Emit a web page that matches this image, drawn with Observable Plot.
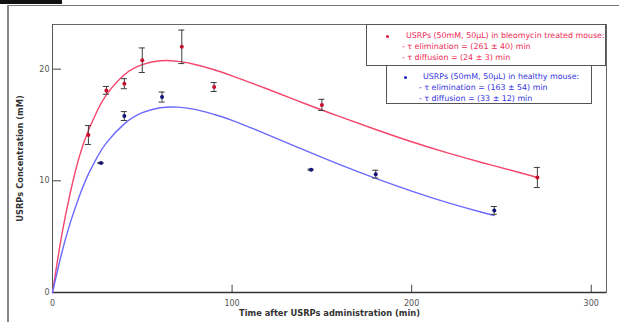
<!DOCTYPE html>
<html>
<head>
<meta charset="utf-8">
<script src="https://cdn.jsdelivr.net/npm/d3@7"></script>
<script src="https://cdn.jsdelivr.net/npm/@observablehq/plot@0.6"></script>
<style>
  html, body { margin: 0; padding: 0; background: #fff; }
  #wrap { position: relative; width: 619px; height: 322px; overflow: hidden; font-family: "DejaVu Sans", Verdana, sans-serif; }
  #wrap svg { position: absolute; left: 0; top: 0; }
  .deco { position: absolute; }
  .leg { position: absolute; background: #fff; border: 1px solid #555; box-sizing: border-box; }
  .leg div { position: absolute; white-space: nowrap; font-size: 7.9px; line-height: 1; }
  .bul { position: absolute; width: 3px; height: 3px; border-radius: 50%; }
</style>
</head>
<body>
<div id="wrap"></div>
<script>
// ---- data ----
const redT   = [20, 30, 40, 50, 72, 90, 150, 270];
const redC   = [14.1, 18.1, 18.7, 20.8, 22.0, 18.4, 16.8, 10.3];
const redErr = [0.85, 0.35, 0.45, 1.1, 1.5, 0.4, 0.5, 0.9];

const blueT   = [27, 40, 61, 144, 180, 246];
const blueC   = [11.6, 15.8, 17.5, 11.0, 10.6, 7.35];
const blueErr = [0.05, 0.4, 0.45, 0.05, 0.35, 0.35];

const redFitT = [0, 5, 10, 15, 20, 25, 30, 40, 50, 60, 70, 80, 90, 100, 120, 140, 160, 180, 200, 220, 240, 260, 270];
const redFit  = [0, 5.0, 9.0, 12.2, 14.5, 16.3, 17.7, 19.5, 20.4, 20.75, 20.7, 20.4, 19.95, 19.4, 18.2, 16.95, 15.75, 14.6, 13.5, 12.5, 11.6, 10.75, 10.3];

const blueFitT = [0, 5, 10, 15, 20, 25, 30, 40, 50, 60, 70, 80, 90, 100, 120, 140, 160, 180, 200, 220, 240, 246];
const blueFit  = [0, 3.45, 6.3, 8.65, 10.6, 12.15, 13.4, 15.1, 16.1, 16.55, 16.6, 16.38, 15.95, 15.42, 14.12, 12.77, 11.45, 10.22, 9.08, 8.05, 7.14, 6.9];

const xTicks = [0, 100, 200, 300];
const yTicks = [0, 10, 20];

const xTitle = "Time after USRPs administration (min)";
const yTitle = "USRPs Concentration (mM)";

const redLegend = ["USRPs (50mM, 50µL) in bleomycin treated mouse:", "- τ elimination = (261 ± 40) min", "- τ diffusion = (24 ± 3) min"];
const blueLegend = ["USRPs (50mM, 50µL) in healthy mouse:", "- τ elimination = (163 ± 54) min", "- τ diffusion = (33 ± 12) min"];

// ---- build tables ----
const redPts = redT.map((t, i) => ({t, c: redC[i], e: redErr[i]}));
const bluePts = blueT.map((t, i) => ({t, c: blueC[i], e: blueErr[i]}));
const redLine = redFitT.map((t, i) => ({t, c: redFit[i]}));
const blueLine = blueFitT.map((t, i) => ({t, c: blueFit[i]}));
const allPts = [...redPts, ...bluePts];
const capHalf = 1.7;

const RED = "#f4476b", BLUE = "#6a6aff";

const chart = Plot.plot({
  width: 619,
  height: 322,
  marginLeft: 52,
  marginRight: 13,
  marginTop: 24,
  marginBottom: 30,
  style: {fontFamily: "'DejaVu Sans', Verdana, sans-serif", background: "transparent"},
  x: {domain: [0, 308.5]},
  y: {domain: [0, 24]},
  marks: [
    Plot.frame({stroke: "#666"}),
    Plot.axisX(xTicks, {tickSize: 0, tickPadding: 8, fontSize: 8, fill: "#555", label: null}),
    Plot.axisY(yTicks, {tickSize: 0, tickPadding: 3, fontSize: 8, fill: "#555", label: null}),
    Plot.ruleX(xTicks.slice(1), {y1: 0, y2: 0.65, stroke: "#444"}),
    Plot.ruleY(yTicks.slice(1), {x1: 0, x2: 5, stroke: "#444"}),
    Plot.ruleY([0], {stroke: "#333", strokeWidth: 1.5}),
    Plot.ruleX([0], {stroke: "#555"}),
    Plot.line(redLine, {x: "t", y: "c", stroke: RED, strokeWidth: 1.4, curve: "natural"}),
    Plot.line(blueLine, {x: "t", y: "c", stroke: BLUE, strokeWidth: 1.4, curve: "natural"}),
    Plot.ruleX(allPts, {x: "t", y1: d => d.c - d.e, y2: d => d.c + d.e, stroke: "#3d3d3d", strokeWidth: 1}),
    Plot.ruleY(allPts, {y: d => d.c - d.e, x1: d => d.t - capHalf, x2: d => d.t + capHalf, stroke: "#3d3d3d", strokeWidth: 1}),
    Plot.ruleY(allPts, {y: d => d.c + d.e, x1: d => d.t - capHalf, x2: d => d.t + capHalf, stroke: "#3d3d3d", strokeWidth: 1}),
    Plot.dot(redPts, {x: "t", y: "c", r: 2, fill: "#c8102e", stroke: "none"}),
    Plot.dot(bluePts, {x: "t", y: "c", r: 2, fill: "#12127a", stroke: "none"}),
    Plot.text([yTitle], {frameAnchor: "left", textAnchor: "middle", dx: -32, rotate: -90, fontSize: 8.3, fontWeight: "bold", fill: "#333"}),
    Plot.text([xTitle], {frameAnchor: "bottom", textAnchor: "middle", dy: 23, fontSize: 8.3, fontWeight: "bold", fill: "#333"})
  ]
});

const wrap = document.getElementById("wrap");

// decorative screenshot borders
const deco = [
  {l: 0, t: 0, w: 62, h: 4, bg: "#111"},
  {l: 7, t: 4.5, w: 612, h: 1.5, bg: "#777"},
  {l: 7, t: 4.5, w: 1.5, h: 318, bg: "#888"}
];
deco.forEach(d => {
  const e = document.createElement("div");
  e.className = "deco";
  Object.assign(e.style, {left: d.l + "px", top: d.t + "px", width: d.w + "px", height: d.h + "px", background: d.bg});
  wrap.appendChild(e);
});

wrap.appendChild(chart);

function legendBox(left, top, w, h, color, lines, bulletX, line1X, subX, bulletColor) {
  const box = document.createElement("div");
  box.className = "leg";
  Object.assign(box.style, {left: left + "px", top: top + "px", width: w + "px", height: h + "px"});
  const b = document.createElement("span");
  b.className = "bul";
  Object.assign(b.style, {left: (bulletX - left - 1.5) + "px", top: "9.5px", background: bulletColor});
  box.appendChild(b);
  lines.forEach((txt, i) => {
    const d = document.createElement("div");
    d.textContent = txt;
    d.style.color = color;
    d.style.left = ((i === 0 ? line1X : subX) - left - 1) + "px";
    d.style.top = (7 + i * 10.8) + "px";
    box.appendChild(d);
  });
  wrap.appendChild(box);
}
legendBox(386, 65, 206, 39, "#3434e0", blueLegend, 404, 423, 419, "#2020d0");
legendBox(366, 24, 240, 42, "#ee2a55", redLegend, 386, 406, 402, "#e01040");
</script>
</body>
</html>
